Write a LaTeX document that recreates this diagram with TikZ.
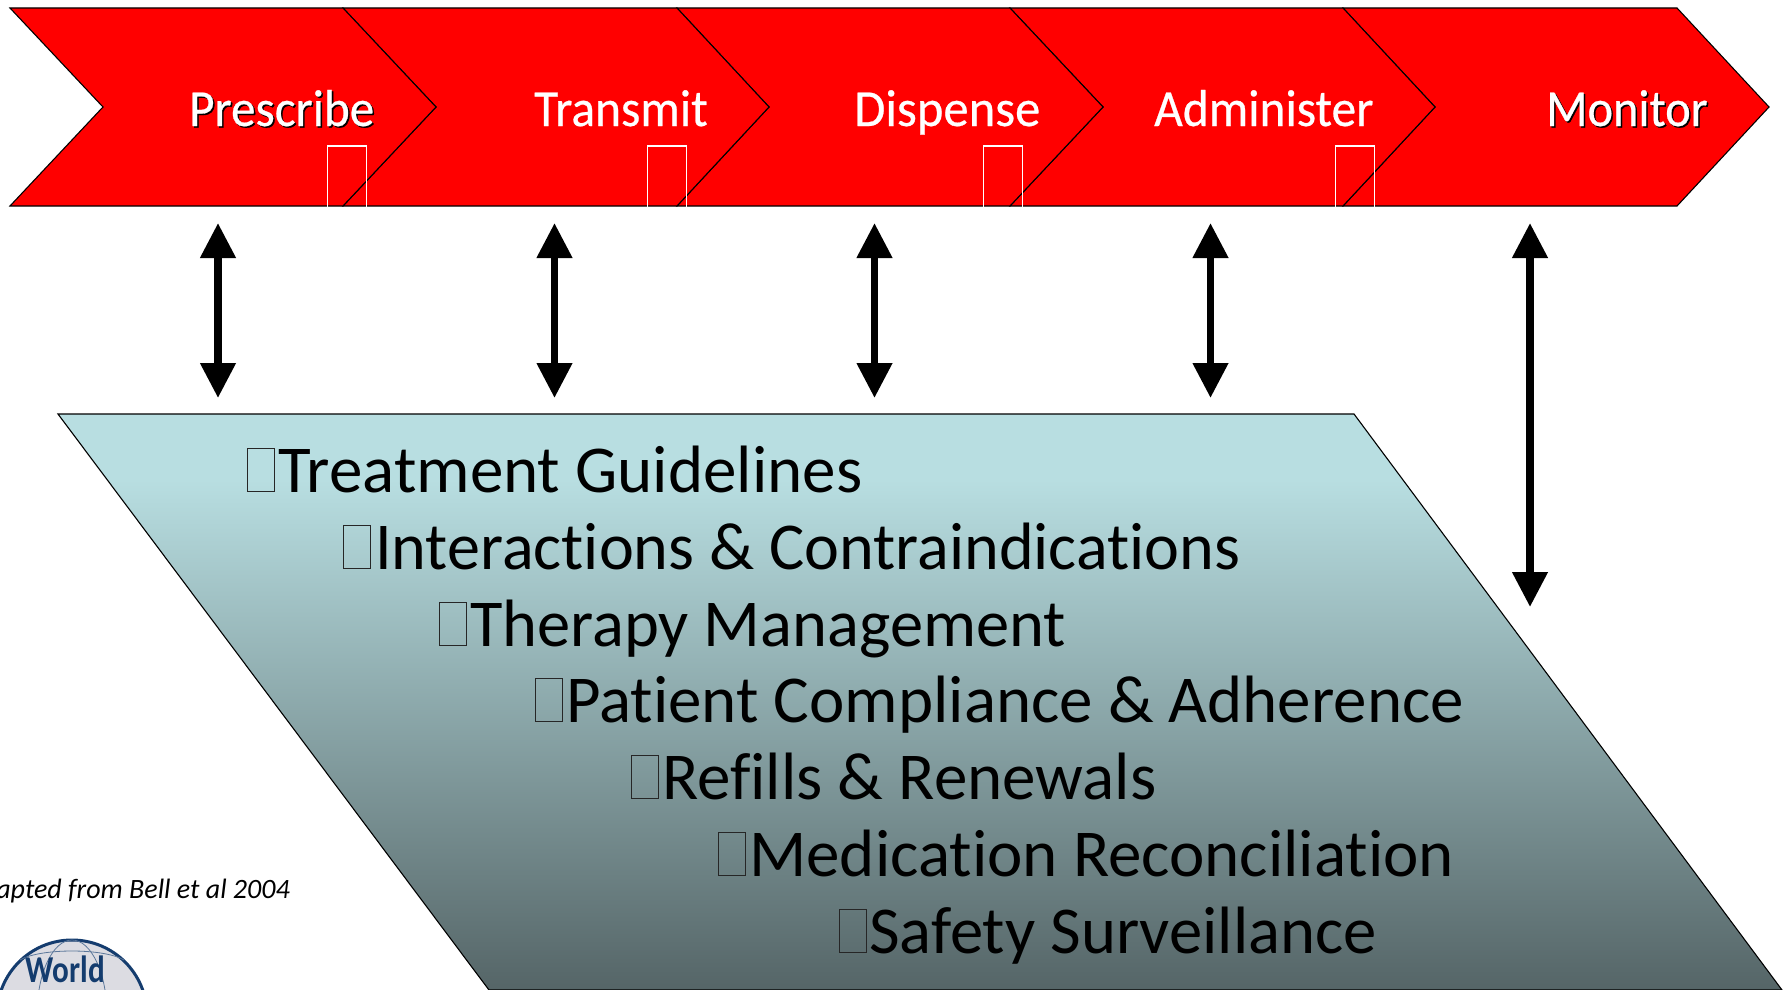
\documentclass[tikz,border=0pt]{standalone}
\usepackage{fontspec}
\setmainfont[Ligatures=NoCommon]{Carlito}
\usetikzlibrary{arrows.meta}
\definecolor{chevred}{RGB}{255,0,0}
\definecolor{gradtop}{RGB}{184,222,225}
\definecolor{gradbot}{RGB}{85,101,103}
\definecolor{globeblue}{RGB}{20,60,110}
\pgfdeclareverticalshading{panelgrad}{100bp}{
  color(0bp)=(gradbot); color(25bp)=(gradbot); color(69.3bp)=(gradtop); color(100bp)=(gradtop)}
\newcommand\labelfont{\fontsize{52}{52}\selectfont\addfontfeatures{FakeBold=0.5}}
\tikzset{
  chev/.style={fill=chevred,draw=black,line width=1.1pt,line join=miter},
  biarrow/.style={line width=7.5pt,black,{Triangle[length=35pt,width=34pt]}-{Triangle[length=35pt,width=34pt]},shorten <=0pt,shorten >=0pt},
  steplabel/.style={anchor=base west,inner sep=0pt,text=white,font=\labelfont},
  shadowlabel/.style={anchor=base west,inner sep=0pt,text=black,font=\labelfont},
  tofuw/.style={draw=white,line width=1.3pt},
  item/.style={anchor=base west,inner sep=0pt,font=\fontsize{67}{67}\selectfont},
  tofub/.style={draw=black!85,line width=.9pt,fill=none,anchor=south west,minimum width=27pt,minimum height=43pt,inner sep=0pt},
}
\begin{document}
\begin{tikzpicture}[x=1pt,y=-1pt]
\useasboundingbox (0,0) rectangle (1791,990);
% chevrons, right to left so that each tip lies over the next one
\draw[chev] (1343,8) -- (1677,8) -- (1769,107) -- (1677,206) -- (1343,206) -- (1435,107) -- cycle;
\draw[chev] (1010,8) -- (1343,8) -- (1435,107) -- (1343,206) -- (1010,206) -- (1103,107) -- cycle;
\draw[chev] (677,8) -- (1010,8) -- (1103,107) -- (1010,206) -- (677,206) -- (769,107) -- cycle;
\draw[chev] (343,8) -- (677,8) -- (769,107) -- (677,206) -- (343,206) -- (436,107) -- cycle;
\draw[chev] (10,8) -- (343,8) -- (436,107) -- (343,206) -- (10,206) -- (103,107) -- cycle;
% tofu marks
\draw[tofuw] (327.7,207) -- (327.7,146) -- (366.5,146) -- (366.5,207);
\draw[tofuw] (647.7,207) -- (647.7,146) -- (686.5,146) -- (686.5,207);
\draw[tofuw] (983.7,207) -- (983.7,146) -- (1022.5,146) -- (1022.5,207);
\draw[tofuw] (1335.7,207) -- (1335.7,146) -- (1374.5,146) -- (1374.5,207);
% labels
\node[shadowlabel,xscale=.945] at (190.5,127.5) {Prescribe};
\node[steplabel,xscale=.945] (lp) at (189,126) {Prescribe};
\node[steplabel,xscale=.95] (lt) at (534,126) {Transmit};
\node[steplabel,xscale=.975] (ld) at (854,126) {Dispense};
\node[steplabel,xscale=.95] (la) at (1154,126) {Administer};
\node[shadowlabel,xscale=.93] at (1547.5,127.5) {Monitor};
\node[steplabel,xscale=.93] (lm) at (1546,126) {Monitor};
% panel
\begin{scope}
\clip (58,414) -- (1354,414) -- (1782,990) -- (489,990) -- cycle;
\shade[shading=panelgrad] (50,414) rectangle (1791,990);
\end{scope}
\draw[black,line width=1.1pt] (58,414) -- (1354,414) -- (1782,990) -- (489,990) -- cycle;
% arrows
\coordinate (a1t) at (218,223); \coordinate (a1b) at (218,398);
\coordinate (a2t) at (554.5,223); \coordinate (a2b) at (554.5,398);
\coordinate (a3t) at (874.5,223); \coordinate (a3b) at (874.5,398);
\coordinate (a4t) at (1210.5,223); \coordinate (a4b) at (1210.5,398);
\coordinate (a5t) at (1530,223); \coordinate (a5b) at (1530,607);
\draw[biarrow] (a1t) -- (a1b);
\draw[biarrow] (a2t) -- (a2b);
\draw[biarrow] (a3t) -- (a3b);
\draw[biarrow] (a4t) -- (a4b);
\draw[biarrow] (a5t) -- (a5b);
% list
\node[tofub] at (247,492) {}; \node[item] at (278,492) {Treatment Guidelines};
\node[tofub] at (343,569) {}; \node[item,xscale=.987] at (375,569) {Interactions \& Contraindications};
\node[tofub] at (439,646) {}; \node[item,xscale=.992] at (470,646) {Therapy Management};
\node[tofub] at (535,722) {}; \node[item,xscale=.999] at (566,722) {Patient Compliance \& Adherence};
\node[tofub] at (631,799) {}; \node[item] at (662,799) {Refills \& Renewals};
\node[tofub] at (718,876) {}; \node[item] at (749,876) {Medication Reconciliation};
\node[tofub] at (839,953) {}; \node[item,xscale=.995] at (869,953) {Safety Surveillance};
% caption
\node[anchor=base east,inner sep=0pt,font=\fontsize{28}{28}\selectfont\itshape] (cap) at (290,898) {Adapted from Bell et al 2004};
% logo
\begin{scope}
\clip (0,930) rectangle (200,990);
\fill[blue!10!gray!25] (72,1015) circle (75);
\draw[globeblue,line width=3pt] (72,1015) circle (75);
\draw[globeblue!70,line width=.8pt] (72,1015) ellipse (35 and 75);
\draw[globeblue!70,line width=.8pt] (20,960) .. controls (40,948) and (104,948) .. (124,960);
\node[inner sep=0pt,anchor=base,text=globeblue,xscale=.82,font=\fontsize{38}{38}\selectfont\bfseries] (wl) at (65.5,982) {World};
\end{scope}
\end{tikzpicture}
\end{document}
